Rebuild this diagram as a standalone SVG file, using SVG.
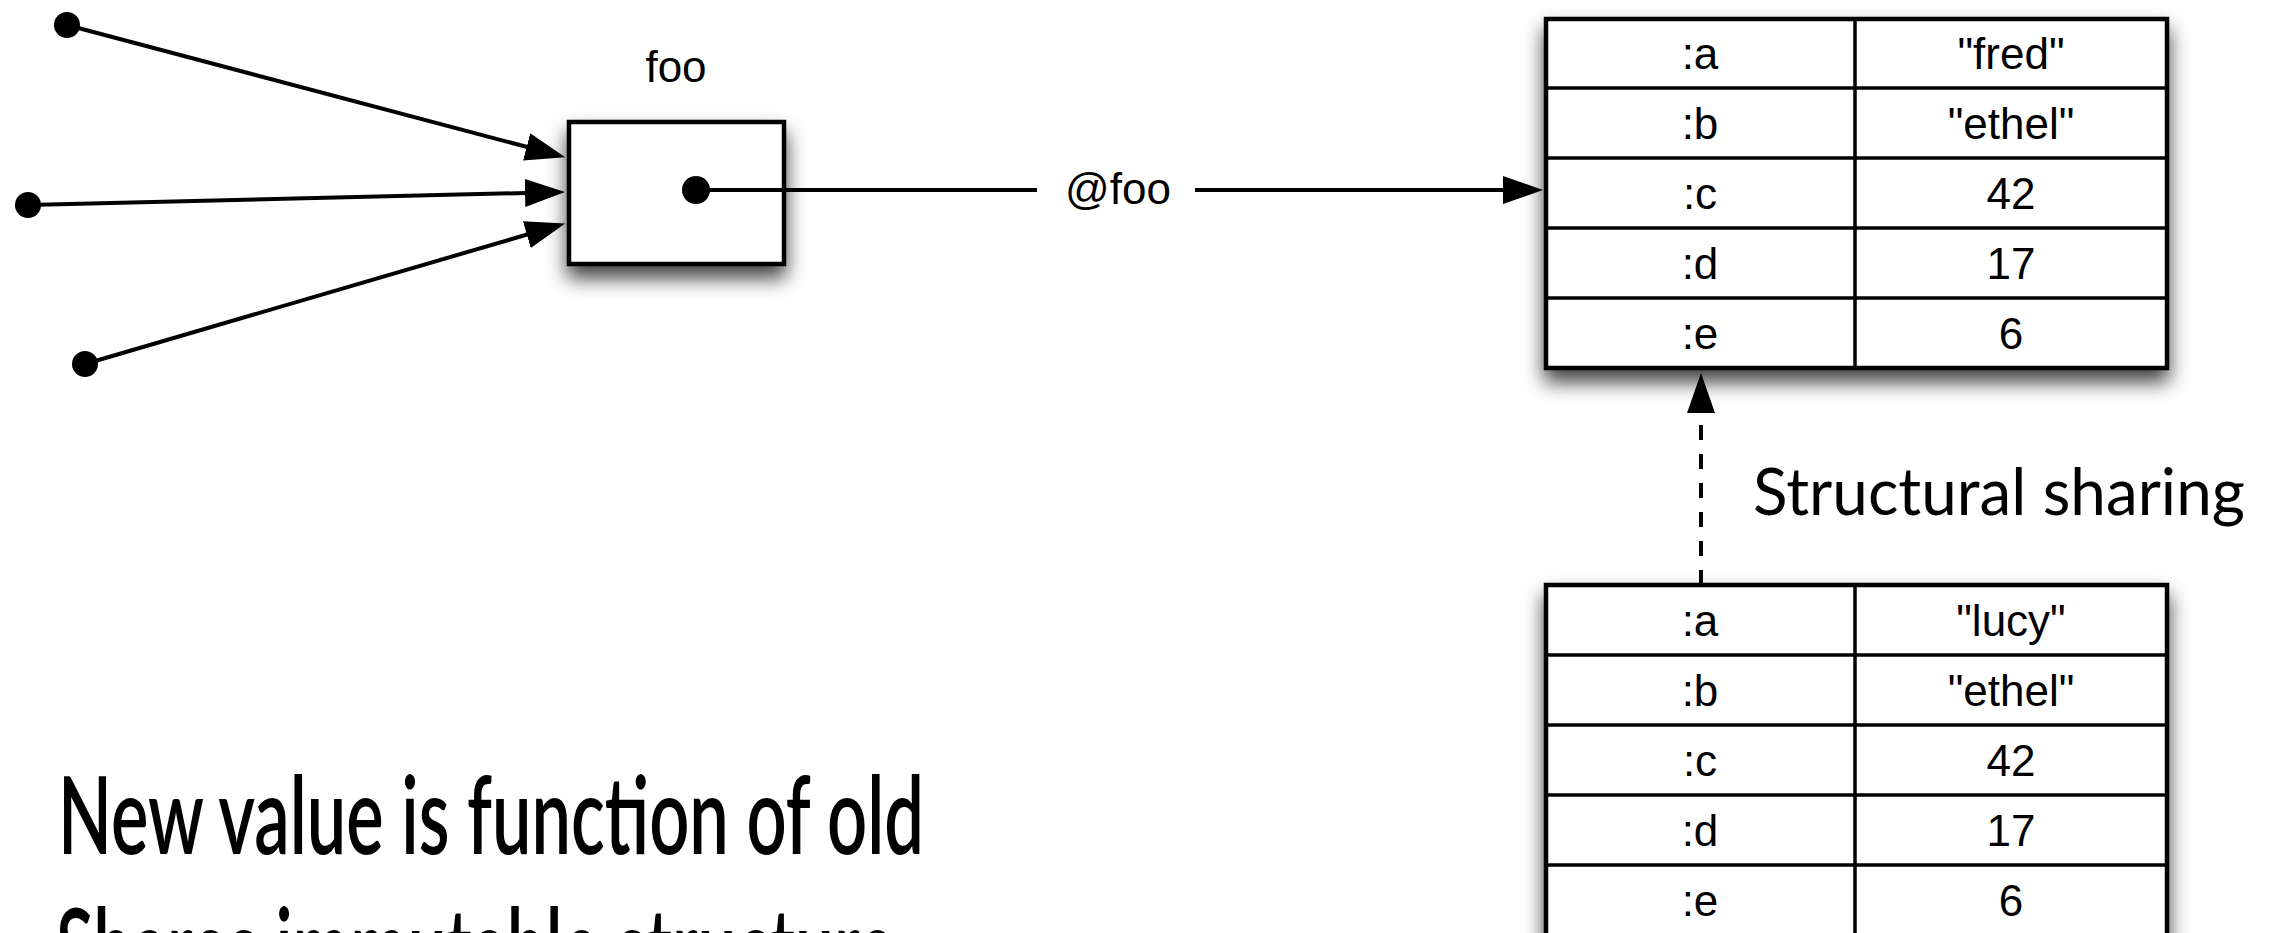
<svg xmlns="http://www.w3.org/2000/svg" width="2274" height="933" viewBox="0 0 2274 933">
<defs>
<style>
.ln{stroke:#000;stroke-width:4;fill:none}
.dash{stroke:#000;stroke-width:4;fill:none;stroke-dasharray:15 14}
.box{fill:#fff;stroke:#000;stroke-width:4.5}
.grid{stroke:#000;stroke-width:3.5}
.dot{fill:#000}
.hv{font-family:"Liberation Sans",Arial,sans-serif;fill:#000;text-anchor:middle}
.cell{font-size:44px}
.lbl{font-size:44px}
.big{font-family:Lato,"Open Sans",sans-serif;fill:#000}
.cap{font-weight:600}
</style>
<filter id="shadow" x="-15%" y="-15%" width="130%" height="140%">
<feDropShadow dx="0" dy="12" stdDeviation="10" flood-color="#000" flood-opacity="0.75"/>
</filter>
<marker id="arrow" markerUnits="userSpaceOnUse" markerWidth="40" markerHeight="28" refX="20" refY="14" orient="auto" viewBox="0 0 40 28">
<path d="M0,0 L40,14 L0,28 z" fill="#000"/>
</marker>
</defs>
<rect width="2274" height="933" fill="#fff"/>

<g id="node-foo">
<rect class="box" x="569" y="122" width="215" height="142" filter="url(#shadow)"/>
<text class="hv lbl" x="676" y="82">foo</text>
</g>

<g id="node-map-old">
<rect class="box" x="1546" y="19" width="621" height="349" filter="url(#shadow)"/>
<line class="grid" x1="1855" y1="19" x2="1855" y2="368"/>
<line class="grid" x1="1546" y1="88" x2="2167" y2="88"/>
<line class="grid" x1="1546" y1="158" x2="2167" y2="158"/>
<line class="grid" x1="1546" y1="228" x2="2167" y2="228"/>
<line class="grid" x1="1546" y1="298" x2="2167" y2="298"/>
<g class="hv cell">
<text x="1700" y="69">:a</text><text x="2011" y="69">"fred"</text>
<text x="1700" y="139">:b</text><text x="2011" y="139">"ethel"</text>
<text x="1700" y="209">:c</text><text x="2011" y="209">42</text>
<text x="1700" y="279">:d</text><text x="2011" y="279">17</text>
<text x="1700" y="349">:e</text><text x="2011" y="349">6</text>
</g>
</g>

<g id="node-map-new">
<rect class="box" x="1546" y="585" width="621" height="360" filter="url(#shadow)"/>
<line class="grid" x1="1855" y1="585" x2="1855" y2="945"/>
<line class="grid" x1="1546" y1="655" x2="2167" y2="655"/>
<line class="grid" x1="1546" y1="725" x2="2167" y2="725"/>
<line class="grid" x1="1546" y1="795" x2="2167" y2="795"/>
<line class="grid" x1="1546" y1="865" x2="2167" y2="865"/>
<g class="hv cell">
<text x="1700" y="636">:a</text><text x="2011" y="636">"lucy"</text>
<text x="1700" y="706">:b</text><text x="2011" y="706">"ethel"</text>
<text x="1700" y="776">:c</text><text x="2011" y="776">42</text>
<text x="1700" y="846">:d</text><text x="2011" y="846">17</text>
<text x="1700" y="916">:e</text><text x="2011" y="916">6</text>
</g>
</g>

<g id="connectors">
<circle class="dot" cx="67" cy="25" r="13"/>
<line class="ln" x1="67" y1="25" x2="546" y2="152" marker-end="url(#arrow)"/>
<circle class="dot" cx="28" cy="205" r="13"/>
<line class="ln" x1="28" y1="205" x2="545" y2="192.5" marker-end="url(#arrow)"/>
<circle class="dot" cx="85" cy="364" r="13"/>
<line class="ln" x1="85" y1="364" x2="546" y2="229" marker-end="url(#arrow)"/>
<circle class="dot" cx="696" cy="190" r="14"/>
<line class="ln" x1="696" y1="190" x2="1037" y2="190"/>
<text class="hv lbl" x="1118" y="204">@foo</text>
<line class="ln" x1="1195" y1="190" x2="1523" y2="190" marker-end="url(#arrow)"/>
<line class="dash" x1="1701" y1="585" x2="1701" y2="393" marker-end="url(#arrow)"/>
<text class="big" x="1753" y="515" font-size="65" textLength="492" lengthAdjust="spacingAndGlyphs">Structural sharing</text>
</g>

<g id="caption">
<text class="big cap" x="58" y="854" font-size="107" textLength="866" lengthAdjust="spacingAndGlyphs">New value is function of old</text>
<text class="big cap" x="56" y="986" font-size="107" textLength="839" lengthAdjust="spacingAndGlyphs">Shares immutable structure</text>
</g>
</svg>
